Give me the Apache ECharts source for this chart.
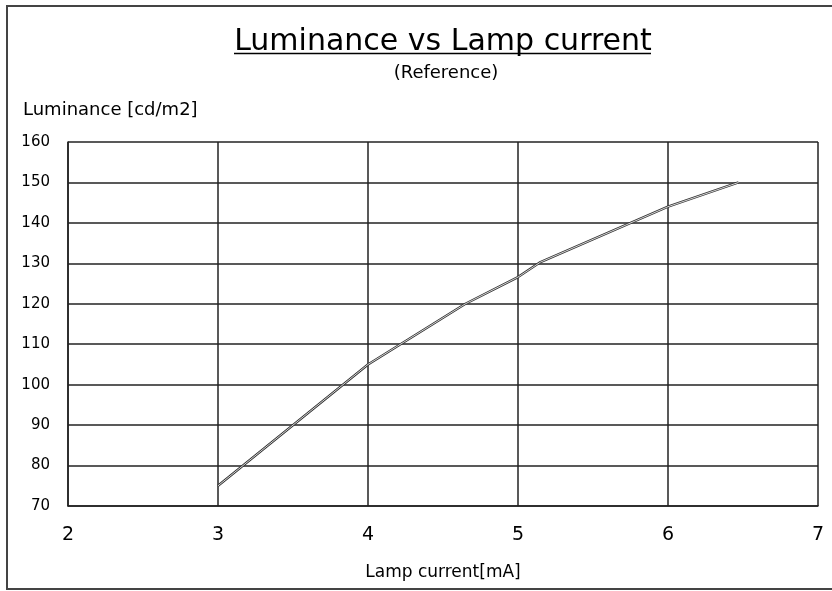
<!DOCTYPE html>
<html>
<head>
<meta charset="utf-8">
<script src="https://cdn.jsdelivr.net/npm/echarts@6/dist/echarts.min.js"></script>
<style>
  html, body { margin: 0; padding: 0; background: #fff; }
  #chart { width: 832px; height: 591px; }
</style>
</head>
<body>
<div id="chart"></div>
<script>
// lamp current [mA]
var currentMA = [3, 4, 4.65, 5, 5.15, 6, 6.47]
// luminance [cd/m2]
var luminance = [75, 105, 120, 126.6, 130.3, 144, 150]

var xTicks = [2, 3, 4, 5, 6, 7]
var yTicks = [70, 80, 90, 100, 110, 120, 130, 140, 150, 160]

var points = currentMA.map(function(x, i) { return [x, luminance[i]] })
var font = 'DejaVu Sans'
var gridColor = '#222'

var chart = echarts.init(document.getElementById('chart'))
chart.setOption({
  backgroundColor: '#fff',
  animation: false,
  title: [
    {
      text: 'Luminance vs Lamp current',
      left: 438,
      top: 22,
      textAlign: 'center',
      textStyle: { fontFamily: font, fontSize: 30, fontWeight: 'normal', color: '#000' }
    },
    {
      text: '(Reference)',
      left: 441,
      top: 59,
      textAlign: 'center',
      textStyle: { fontFamily: font, fontSize: 18, fontWeight: 'normal', color: '#000' }
    }
  ],
  graphic: [
    {
      type: 'rect',
      shape: { x: 7, y: 6, width: 828, height: 583 },
      style: { fill: 'none', stroke: '#444', lineWidth: 2 },
      silent: true
    },
    {
      type: 'line',
      shape: { x1: 234, y1: 53.5, x2: 651, y2: 53.5 },
      style: { stroke: '#000', lineWidth: 1.5 },
      silent: true
    },
    {
      type: 'text',
      left: 23,
      top: 101,
      style: { text: 'Luminance [cd/m2]', fontFamily: font, fontSize: 18, fill: '#000' },
      silent: true
    }
  ],
  grid: { left: 68, right: 14, top: 142, bottom: 85 },
  xAxis: {
    type: 'value',
    min: xTicks[0],
    max: xTicks[xTicks.length - 1],
    interval: 1,
    name: 'Lamp current[mA]',
    nameLocation: 'middle',
    nameGap: 58,
    nameTextStyle: { fontFamily: font, fontSize: 17, color: '#000' },
    axisLine: { show: true, lineStyle: { color: gridColor, width: 1.5 } },
    axisTick: { show: false },
    axisLabel: { fontFamily: font, fontSize: 19, color: '#000', margin: 20 },
    splitLine: { show: true, showMinLine: true, showMaxLine: true, lineStyle: { color: gridColor, width: 1.5 } }
  },
  yAxis: {
    type: 'value',
    min: yTicks[0],
    max: yTicks[yTicks.length - 1],
    interval: 10,
    axisLine: { show: true, lineStyle: { color: gridColor, width: 1.5 } },
    axisTick: { show: false },
    axisLabel: { fontFamily: font, fontSize: 15, color: '#000', margin: 18 },
    splitLine: { show: true, showMinLine: true, showMaxLine: true, lineStyle: { color: gridColor, width: 1.5 } }
  },
  series: [
    {
      // dark edge of the line
      type: 'line',
      data: points,
      symbol: 'none',
      silent: true,
      lineStyle: { color: '#333', width: 2.4 },
      z: 3
    },
    {
      // white core
      type: 'line',
      data: points,
      symbol: 'none',
      silent: true,
      lineStyle: { color: '#fff', width: 0.8 },
      z: 4
    }
  ]
})
</script>
</body>
</html>
